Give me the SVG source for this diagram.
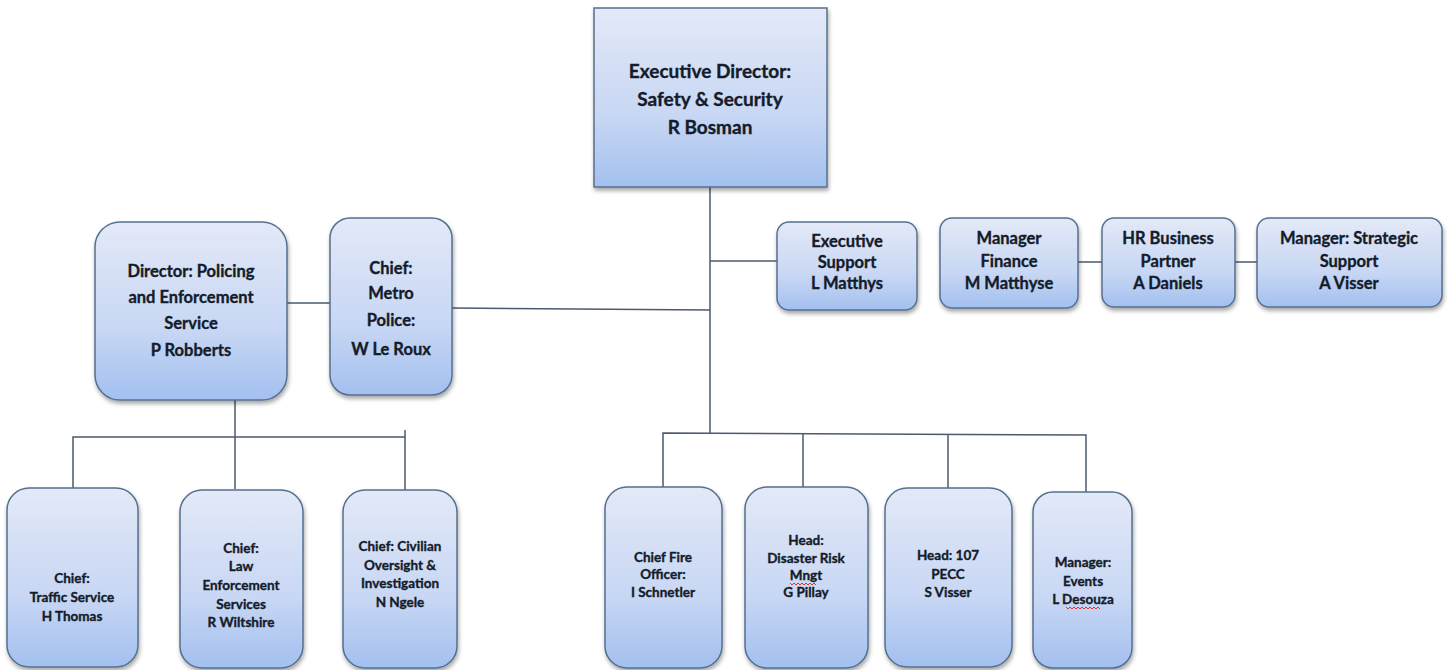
<svg xmlns="http://www.w3.org/2000/svg" width="1451" height="670" viewBox="0 0 1451 670">
<defs>
<linearGradient id="g" x1="0" y1="0" x2="0" y2="1">
<stop offset="0" stop-color="#e3e9f7"/>
<stop offset="0.6" stop-color="#c8d7f4"/>
<stop offset="1" stop-color="#a3c0ef"/>
</linearGradient>
<filter id="sh" x="-10%" y="-10%" width="125%" height="125%">
<feGaussianBlur in="SourceAlpha" stdDeviation="2"/>
<feOffset dx="1" dy="3"/>
<feComponentTransfer><feFuncA type="linear" slope="0.35"/></feComponentTransfer>
<feMerge><feMergeNode/><feMergeNode in="SourceGraphic"/></feMerge>
</filter>
</defs>
<style>
.box{fill:url(#g);stroke:#55708f;stroke-width:1.5;filter:url(#sh)}
.t{font-family:Lato,"Liberation Sans",sans-serif;font-weight:bold;fill:#141c2a;stroke:#141c2a;stroke-width:0.35;text-anchor:middle}
.big{font-size:19px}
.mid{font-size:16.5px}
.sm{font-size:13.5px}
.c{stroke:#4b5a6e;stroke-width:1.5;fill:none}
.sq{stroke:#e0342c;stroke-width:1;fill:none}
</style>
<rect width="1451" height="670" fill="#ffffff"/>
<g id="connectors">
<path class="c" d="M710 187V433"/>
<path class="c" d="M710 261H777"/>
<path class="c" d="M452 308L710 310"/>
<path class="c" d="M287 303H330"/>
<path class="c" d="M1078 262H1102"/>
<path class="c" d="M1235 262H1257"/>
<path class="c" d="M235 400V489"/>
<path class="c" d="M73 488V437H405"/>
<path class="c" d="M405 430V490"/>
<path class="c" d="M663 487V433L1086 435V492"/>
<path class="c" d="M803 433.5V487"/>
<path class="c" d="M948 434V490"/>
</g>
<g id="exec-director">
<rect class="box" x="594" y="8" width="233" height="179"/>
<text class="t big" x="710" y="78">Executive Director:</text>
<text class="t big" x="710" y="106">Safety &amp; Security</text>
<text class="t big" x="710" y="134">R Bosman</text>
</g>
<g id="director-policing">
<rect class="box" x="95" y="222" width="192" height="178" rx="25"/>
<text class="t mid" x="191" y="277">Director: Policing</text>
<text class="t mid" x="191" y="303">and Enforcement</text>
<text class="t mid" x="191" y="329">Service</text>
<text class="t mid" x="191" y="356">P Robberts</text>
</g>
<g id="chief-metro">
<rect class="box" x="330" y="218" width="122" height="177" rx="20"/>
<text class="t mid" x="391" y="274">Chief:</text>
<text class="t mid" x="391" y="299">Metro</text>
<text class="t mid" x="391" y="326">Police:</text>
<text class="t mid" x="391" y="355">W Le Roux</text>
</g>
<g id="exec-support">
<rect class="box" x="777" y="222" width="140" height="88" rx="12"/>
<text class="t mid" x="847" y="247">Executive</text>
<text class="t mid" x="847" y="268">Support</text>
<text class="t mid" x="847" y="289">L Matthys</text>
</g>
<g id="manager-finance">
<rect class="box" x="940" y="218" width="138" height="90" rx="12"/>
<text class="t mid" x="1009" y="244">Manager</text>
<text class="t mid" x="1009" y="267">Finance</text>
<text class="t mid" x="1009" y="289">M Matthyse</text>
</g>
<g id="hr-partner">
<rect class="box" x="1102" y="218" width="133" height="89" rx="12"/>
<text class="t mid" x="1168" y="244">HR Business</text>
<text class="t mid" x="1168" y="267">Partner</text>
<text class="t mid" x="1168" y="289">A Daniels</text>
</g>
<g id="manager-strategic">
<rect class="box" x="1257" y="218" width="185" height="89" rx="12"/>
<text class="t mid" x="1349" y="244">Manager: Strategic</text>
<text class="t mid" x="1349" y="267">Support</text>
<text class="t mid" x="1349" y="289">A Visser</text>
</g>
<g id="chief-traffic">
<rect class="box" x="7" y="488" width="131" height="179" rx="22"/>
<text class="t sm" x="72" y="583">Chief:</text>
<text class="t sm" x="72" y="602">Traffic Service</text>
<text class="t sm" x="72" y="621">H Thomas</text>
</g>
<g id="chief-law">
<rect class="box" x="180" y="490" width="123" height="178" rx="22"/>
<text class="t sm" x="241" y="553">Chief:</text>
<text class="t sm" x="241" y="571">Law</text>
<text class="t sm" x="241" y="590">Enforcement</text>
<text class="t sm" x="241" y="609">Services</text>
<text class="t sm" x="241" y="627">R Wiltshire</text>
</g>
<g id="chief-civilian">
<rect class="box" x="343" y="490" width="114" height="178" rx="22"/>
<text class="t sm" x="400" y="551">Chief: Civilian</text>
<text class="t sm" x="400" y="570">Oversight &amp;</text>
<text class="t sm" x="400" y="588">Investigation</text>
<text class="t sm" x="400" y="607">N Ngele</text>
</g>
<g id="chief-fire">
<rect class="box" x="605" y="487" width="117" height="181" rx="22"/>
<text class="t sm" x="663" y="562">Chief Fire</text>
<text class="t sm" x="663" y="579">Officer:</text>
<text class="t sm" x="663" y="597">I Schnetler</text>
</g>
<g id="head-disaster">
<rect class="box" x="745" y="487" width="123" height="181" rx="22"/>
<text class="t sm" x="806" y="545">Head:</text>
<text class="t sm" x="806" y="563">Disaster Risk</text>
<text class="t sm" x="806" y="580">Mngt</text>
<text class="t sm" x="806" y="597">G Pillay</text>
<path class="sq" d="M790 583l2 2 2-2 2 2 2-2 2 2 2-2 2 2 2-2 2 2 2-2 2 2 2-2 2 2"/>
</g>
<g id="head-107">
<rect class="box" x="885" y="488" width="127" height="179" rx="22"/>
<text class="t sm" x="948" y="560">Head: 107</text>
<text class="t sm" x="948" y="579">PECC</text>
<text class="t sm" x="948" y="597">S Visser</text>
</g>
<g id="manager-events">
<rect class="box" x="1033" y="492" width="99" height="176" rx="20"/>
<text class="t sm" x="1083" y="567">Manager:</text>
<text class="t sm" x="1083" y="586">Events</text>
<text class="t sm" x="1083" y="604">L Desouza</text>
<path class="sq" d="M1066 607l2 2 2-2 2 2 2-2 2 2 2-2 2 2 2-2 2 2 2-2 2 2 2-2 2 2 2-2 2 2 2-2 2 2"/>
</g>
</svg>
